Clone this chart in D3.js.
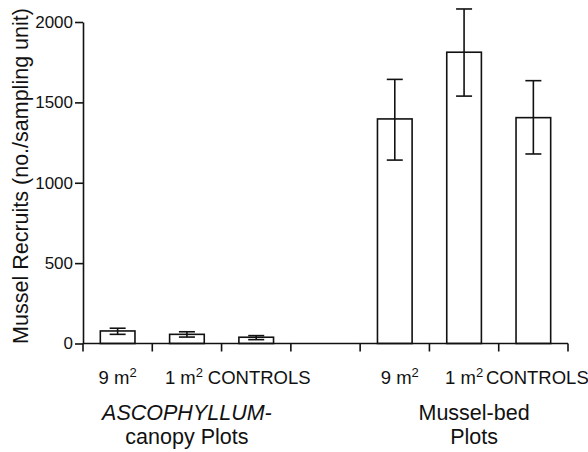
<!DOCTYPE html>
<html lang="en">
<head>
    <meta charset="UTF-8">
    <title>Mussel recruits</title>
    <style>
        body { margin: 0; background: #fff; }
        text { font-family: "Liberation Sans", Arial, Helvetica, sans-serif; fill: #111; }
    </style>
</head>
<body>
<div id="chart"></div>

<script src="https://d3js.org/d3.v7.min.js"></script>

<script>
    // Data
    var slots = ["a9", "a1", "ac", "gap", "m9", "m1", "mc"];
    var barSlots = ["a9", "a1", "ac", "m9", "m1", "mc"];
    var means = [78, 57, 39, 1397, 1812, 1405];
    var errLow = [57, 40, 24, 1141, 1539, 1179];
    var errHigh = [95, 73, 49, 1643, 2081, 1635];
    var catLabels = ["9 m", "1 m", "CONTROLS", "9 m", "1 m", "CONTROLS"];
    var catSup = ["2", "2", "", "2", "2", ""];
    var yTicks = [0, 500, 1000, 1500, 2000];

    var W = 588, H = 452;
    var margin = {top: 22, left: 83, right: 20, bottom: 108.5};

    var svg = d3.select("#chart").append("svg")
        .attr("width", W)
        .attr("height", H);

    var x = d3.scaleBand().domain(slots).range([margin.left, 568]).padding(0);
    var y = d3.scaleLinear().domain([0, 2000]).range([H - margin.bottom, margin.top]);

    var bw = x.bandwidth() * 0.5;

    // bars
    svg.selectAll("rect.bar")
        .data(barSlots)
        .enter().append("rect")
        .attr("class", "bar")
        .attr("x", (d) => x(d) + x.bandwidth() / 2 - bw / 2)
        .attr("y", (d, i) => y(means[i]))
        .attr("width", bw)
        .attr("height", (d, i) => y(0) - y(means[i]))
        .attr("fill", "#fff")
        .attr("stroke", "#111")
        .attr("stroke-width", 1.6);

    // error bars
    var capW = 16;
    var eb = svg.selectAll("g.err")
        .data(barSlots)
        .enter().append("g")
        .attr("class", "err")
        .attr("stroke", "#111")
        .attr("stroke-width", 1.6);
    eb.append("line")
        .attr("x1", (d) => x(d) + x.bandwidth() / 2)
        .attr("x2", (d) => x(d) + x.bandwidth() / 2)
        .attr("y1", (d, i) => y(errLow[i]))
        .attr("y2", (d, i) => y(errHigh[i]));
    eb.append("line")
        .attr("x1", (d) => x(d) + x.bandwidth() / 2 - capW / 2)
        .attr("x2", (d) => x(d) + x.bandwidth() / 2 + capW / 2)
        .attr("y1", (d, i) => y(errHigh[i]))
        .attr("y2", (d, i) => y(errHigh[i]));
    eb.append("line")
        .attr("x1", (d) => x(d) + x.bandwidth() / 2 - capW / 2)
        .attr("x2", (d) => x(d) + x.bandwidth() / 2 + capW / 2)
        .attr("y1", (d, i) => y(errLow[i]))
        .attr("y2", (d, i) => y(errLow[i]));

    // y axis
    var yAxis = svg.append("g")
        .attr("transform", "translate(" + margin.left + ",0)")
        .call(d3.axisLeft(y).tickValues(yTicks).tickFormat(d3.format("d"))
            .tickSize(8).tickPadding(2).tickSizeOuter(0));
    yAxis.selectAll("path, line").attr("stroke", "#111").attr("stroke-width", 1.6);
    yAxis.selectAll("text").style("font-size", "17px").attr("fill", "#111");

    // x axis: ticks at slot boundaries
    var bounds = slots.map((d) => x(d)).concat([x.range()[1]]);
    var xa = svg.append("g").attr("stroke", "#111").attr("stroke-width", 1.6);
    xa.append("line")
        .attr("x1", x.range()[0]).attr("x2", x.range()[1])
        .attr("y1", y(0)).attr("y2", y(0));
    xa.selectAll("line.tick")
        .data(bounds)
        .enter().append("line")
        .attr("class", "tick")
        .attr("x1", (d) => d).attr("x2", (d) => d)
        .attr("y1", y(0)).attr("y2", y(0) + 8);

    // category labels
    var labelShift = [0, -3, 3, 5, 0, 4];
    var cl = svg.selectAll("text.cat")
        .data(barSlots)
        .enter().append("text")
        .attr("class", "cat")
        .attr("x", (d, i) => x(d) + x.bandwidth() / 2 + labelShift[i])
        .attr("y", 384)
        .attr("text-anchor", "middle")
        .style("font-size", "18.5px");
    cl.append("tspan").text((d, i) => catLabels[i]);
    cl.append("tspan")
        .attr("dy", (d, i) => catSup[i] ? -7 : 0)
        .style("font-size", "13px")
        .text((d, i) => catSup[i]);

    // group labels
    var groupCenters = [(x("a9") + x("gap")) / 2, (x("m9") + x.range()[1]) / 2 + 10];
    svg.append("text")
        .attr("x", groupCenters[0]).attr("y", 420)
        .attr("text-anchor", "middle")
        .style("font-size", "21.5px")
        .style("font-style", "italic")
        .text("ASCOPHYLLUM-");
    svg.append("text")
        .attr("x", groupCenters[0]).attr("y", 444)
        .attr("text-anchor", "middle")
        .style("font-size", "21.5px")
        .text("canopy Plots");
    svg.append("text")
        .attr("x", groupCenters[1]).attr("y", 420)
        .attr("text-anchor", "middle")
        .style("font-size", "21.5px")
        .text("Mussel-bed");
    svg.append("text")
        .attr("x", groupCenters[1]).attr("y", 444)
        .attr("text-anchor", "middle")
        .style("font-size", "21.5px")
        .text("Plots");

    // y axis title
    svg.append("text")
        .attr("transform", "translate(28,176) rotate(-90)")
        .attr("text-anchor", "middle")
        .style("font-size", "21.5px")
        .text("Mussel Recruits (no./sampling unit)");
</script>
</body>
</html>
